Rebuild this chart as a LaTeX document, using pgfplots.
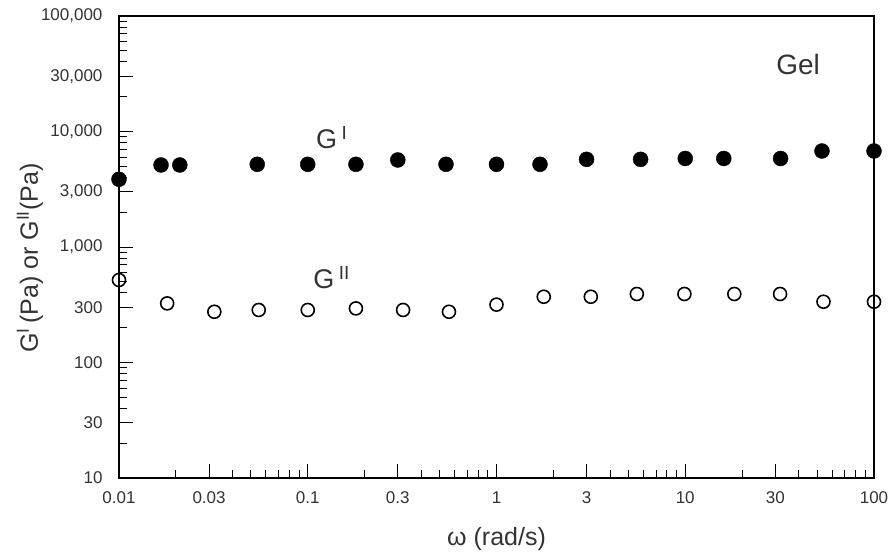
\documentclass[border=0pt]{standalone}
\usepackage{fontspec}
\setmainfont{Liberation Sans}
\usepackage{pgfplots}
\pgfplotsset{compat=1.18}
\usetikzlibrary{calc}

\begin{document}
\begin{tikzpicture}
\begin{loglogaxis}[
    name=ax,
    scale only axis,
    width=755pt, height=462pt,
    xmin=0.01, xmax=100, ymin=10, ymax=100000,
    clip=false,
    axis line style={line width=1.2pt},
    tick align=inside,
    tick pos=left,
    major tick length=14pt,
    minor tick length=8pt,
    every tick/.style={line width=1pt, black},
    xtick={0.01,0.03,0.1,0.3,1,3,10,30,100},
    xticklabels={0.01,0.03,0.1,0.3,1,3,10,30,100},
    minor xtick={0.02,0.04,0.05,0.06,0.07,0.08,0.09,
                 0.2,0.4,0.5,0.6,0.7,0.8,0.9,
                 2,4,5,6,7,8,9,20,40,50,60,70,80,90},
    ytick={10,30,100,300,1000,3000,10000,30000,100000},
    yticklabels={10,30,100,300,{1,000},{3,000},{10,000},{30,000},{100,000}},
    minor ytick={20,40,50,60,70,80,90,200,400,500,600,700,800,900,
                 2000,4000,5000,6000,7000,8000,9000,
                 20000,40000,50000,60000,70000,80000,90000},
    tick label style={font=\fontsize{17}{17}\selectfont, text=black!80},
    xticklabel style={yshift=-10pt},
    yticklabel style={xshift=-13pt},
    xlabel={ω (rad/s)},
    ylabel={G\textsuperscript{I}\,(Pa) or G\textsuperscript{II}(Pa)},
    label style={font=\fontsize{25}{25}\selectfont, text=black!80},
    xlabel style={yshift=-17pt},
    ylabel style={at={(ticklabel cs:0.476)}, yshift=-9pt},
]
% G' (filled)
\addplot[only marks, mark=*, mark size=7.5pt, black] coordinates {
    (0.01,3860) (0.0167,5130) (0.021,5130) (0.054,5200) (0.1,5200)
    (0.18,5200) (0.3,5670) (0.54,5200) (1.0,5200) (1.7,5200)
    (3.0,5740) (5.8,5740) (10,5840) (16,5840) (32,5840)
    (53,6780) (100,6780)
};
% G'' (open)
\addplot[only marks, mark=o, mark size=6.5pt, black, mark options={line width=1.6pt}] coordinates {
    (0.01,518) (0.018,325) (0.032,275) (0.055,285) (0.1,285)
    (0.18,294) (0.32,285) (0.56,275) (1.0,317) (1.78,371)
    (3.16,371) (5.54,392) (9.9,392) (18.2,392) (31.8,392)
    (54,336) (100,336)
};
\node[font=\fontsize{27}{27}\selectfont, text=black!80] at (axis cs:0.134,8790) {G\,\textsuperscript{I}};
\node[font=\fontsize{27}{27}\selectfont, text=black!80] at (axis cs:0.134,540) {G\,\textsuperscript{II}};
\node[font=\fontsize{28}{28}\selectfont, text=black!80] at (axis cs:39.6,37700) {Gel};
\end{loglogaxis}
\pgfresetboundingbox
\path ($(ax.south west)+(-119pt,-76pt)$) rectangle ($(ax.north east)+(19pt,16pt)$);
\end{tikzpicture}
\end{document}
